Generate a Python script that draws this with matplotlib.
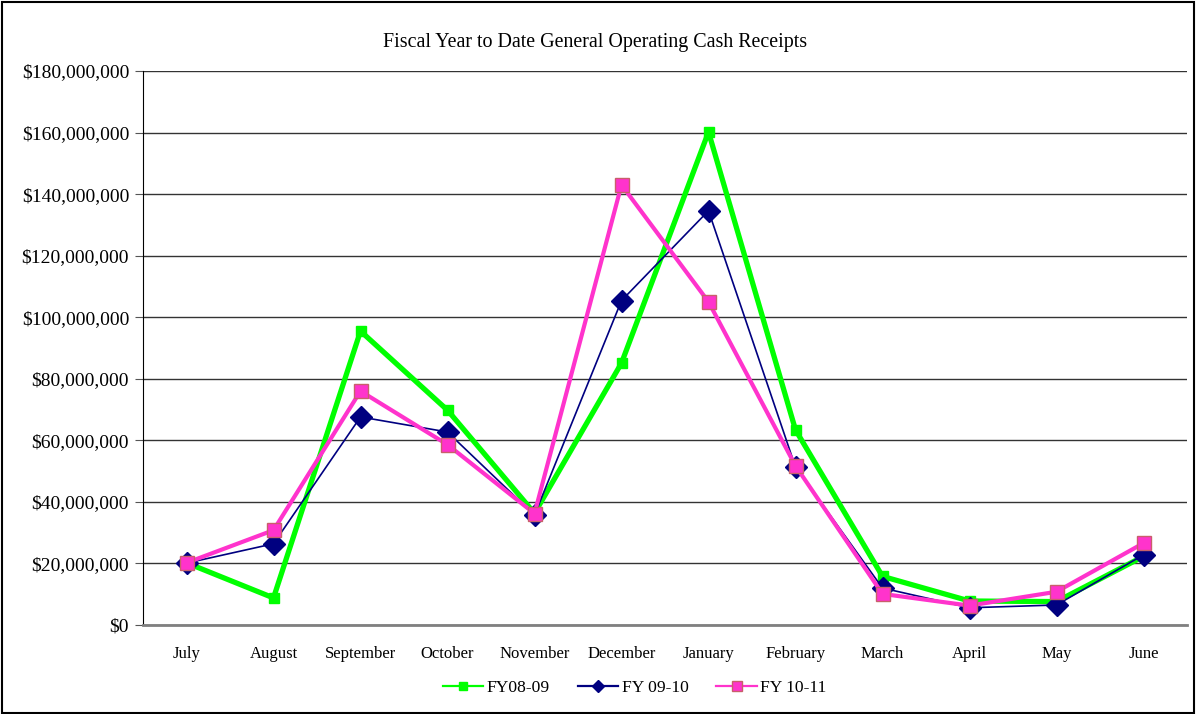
import matplotlib.pyplot as plt
from matplotlib.patches import Rectangle
from matplotlib.ticker import FuncFormatter

months = ['July', 'August', 'September', 'October', 'November', 'December',
          'January', 'February', 'March', 'April', 'May', 'June']
fy0809 = [20.2e6, 8.8e6, 95.5e6, 69.8e6, 36.3e6, 85.1e6,
          160.2e6, 63.4e6, 15.8e6, 7.8e6, 7.6e6, 22.3e6]
fy0910 = [20.1e6, 26.4e6, 67.6e6, 62.7e6, 35.7e6, 105.4e6,
          134.6e6, 51.3e6, 12.0e6, 5.6e6, 6.5e6, 22.8e6]
fy1011 = [20.2e6, 30.8e6, 76.0e6, 58.6e6, 36.2e6, 143.0e6,
          105.0e6, 51.7e6, 10.1e6, 6.3e6, 10.8e6, 26.6e6]

plt.rcParams['font.family'] = ['Liberation Serif', 'DejaVu Serif']

fig = plt.figure(figsize=(11.96, 7.14), dpi=100)
ax = fig.add_axes([143/1196, 89/714, 1044/1196, 554/714])

x = range(len(months))
ax.plot(x, fy0809, color='#00ff00', lw=3.8, marker='s', ms=7,
        mec='#00ff00', mfc='#00ff00', label='FY08-09', zorder=3)
ax.plot(x, fy0910, color='#000080', lw=1.2, marker='D', ms=11,
        mec='#000080', mfc='#000080', label='FY 09-10', zorder=4)
ax.plot(x, fy1011, color='#ff33cc', lw=3.0, marker='s', ms=10,
        mec='#c8606a', mew=1, mfc='#ff33cc', label='FY 10-11', zorder=5)

ax.set_xlim(-0.5, 11.5)
ax.set_ylim(0, 180e6)
ax.set_yticks(range(0, 180000001, 20000000))
ax.yaxis.set_major_formatter(FuncFormatter(lambda v, p: '${:,.0f}'.format(v)))
ax.set_xticks(list(x))
ax.set_xticklabels(months)
ax.tick_params(axis='x', length=0, pad=15, labelsize=12)
ax.tick_params(axis='y', length=6, direction='out', labelsize=14, pad=4,
               color='#555555')
ax.grid(axis='y', color='#333333', lw=1)
ax.set_axisbelow(True)
for s in ['top', 'right']:
    ax.spines[s].set_visible(False)
ax.spines['left'].set_color('black')
ax.spines['bottom'].set_color('#808080')
ax.spines['bottom'].set_linewidth(2)

fig.text(595/1196, 1 - 42/714, 'Fiscal Year to Date General Operating Cash Receipts',
         ha='center', va='center', fontsize=14.4)

leg = ax.legend(loc='center', bbox_to_anchor=(0.471, -0.114), ncol=3, frameon=False,
                fontsize=12.6, handlelength=2.3, columnspacing=1.6, handletextpad=0.2)
for h, ms in zip(leg.legend_handles, [6, 6, 7]):
    h.set_linewidth(1.6)
    h.set_markersize(ms)

fig.patches.append(Rectangle((0.002, 0.002), 0.996, 0.995, transform=fig.transFigure,
                             fill=False, edgecolor='black', lw=1.5))

fig.savefig('out.png', dpi=100)
